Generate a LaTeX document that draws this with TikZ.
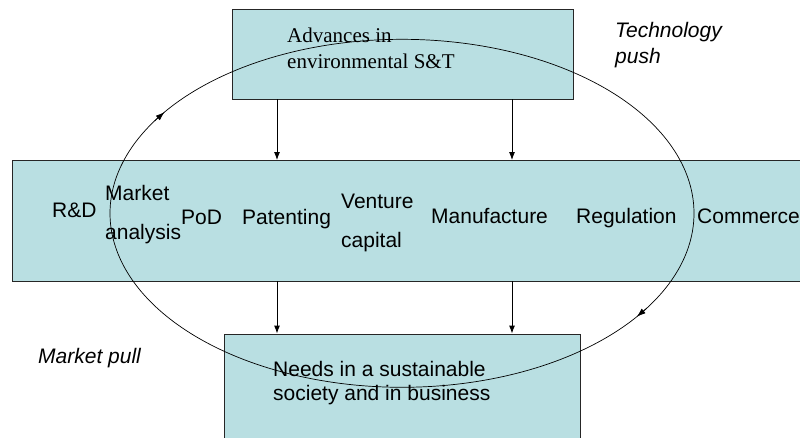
\documentclass[tikz,border=0pt]{standalone}
\usepackage{fontspec}
\setmainfont{Liberation Sans}
\newfontfamily\serifface{Liberation Serif}
\usetikzlibrary{arrows.meta}
\definecolor{boxfill}{RGB}{185,223,226}
\tikzset{
  box/.style={draw=black!85, line width=0.9pt, fill=boxfill, inner sep=0pt},
  lbl/.style={inner sep=0pt, anchor=base west, align=left, font=\fontsize{21}{39}\selectfont},
  lblt/.style={inner sep=0pt, anchor=base west, align=left, font=\fontsize{21}{26}\selectfont},
  arr/.style={line width=0.9pt, -{Latex[length=8pt,width=6pt]}},
  loop/.style={line width=0.7pt},
  looptip/.style={line width=0.7pt, -{Latex[length=9pt,width=6pt]}}
}
\begin{document}
\begin{tikzpicture}[x=1pt,y=-1pt]
\clip (0,0) rectangle (800,437);
\fill[white] (0,0) rectangle (800,437);
% boxes
\node[box, minimum width=341pt, minimum height=90pt] (top) at (402.5,54) {};
\node[box, minimum width=808pt, minimum height=120.5pt] (mid) at (416,220.75) {};
\node[box, minimum width=356pt, minimum height=130pt] (bot) at (402,399) {};
% connectors
\coordinate (ca) at ([xshift=-125.5pt]top.south);
\coordinate (cb) at ([xshift=109.5pt]top.south);
\draw[arr] (ca) -- (ca |- mid.north);
\draw[arr] (cb) -- (cb |- mid.north);
\draw[arr] (ca |- mid.south) -- (ca |- bot.north);
\draw[arr] (cb |- mid.south) -- (cb |- bot.north);
% texts (multi-line nodes are placed at the baseline of their last line)
\node[lblt, font=\serifface\fontsize{21}{26}\selectfont] (adv) at (287,68) {Advances in\\environmental S\&T};
\node[lblt, font=\itshape\fontsize{21}{26}\selectfont] (tech) at (615,63) {Technology\\push};
\node[lblt, font=\itshape\fontsize{21}{26}\selectfont] (mpull) at (38,363) {Market pull};
\node[lbl] (rd) at (52,217) {R\&D};
\node[lbl] (ma) at (105,239.5) {Market\\analysis};
\node[lbl] (pod) at (181,224) {PoD};
\node[lbl] (pat) at (242,224) {Patenting};
\node[lbl] (vc) at (341,247) {Venture\\capital};
\node[lbl] (man) at (431,223) {Manufacture};
\node[lbl] (reg) at (576,223) {Regulation};
\node[lbl] (com) at (697,223) {Commerce};
\node[inner sep=0pt, anchor=base west, align=left, font=\fontsize{21}{24}\selectfont] (needs) at (273,400) {Needs in a sustainable\\society and in business};
% loop
\draw[loop] plot[variable=\t, domain=0:360, samples=241, smooth] ({402+292*cos(\t)},{213.3+174*sin(\t)}) -- cycle;
\coordinate (l1) at ({402+292*cos(212)},{213.3+174*sin(212)});
\coordinate (l2) at ({402+292*cos(215.6)},{213.3+174*sin(215.6)});
\coordinate (l3) at ({402+292*cos(33)},{213.3+174*sin(33)});
\coordinate (l4) at ({402+292*cos(36.5)},{213.3+174*sin(36.5)});
\draw[looptip] (l1) -- (l2);
\draw[looptip] (l3) -- (l4);
\end{tikzpicture}
\end{document}
